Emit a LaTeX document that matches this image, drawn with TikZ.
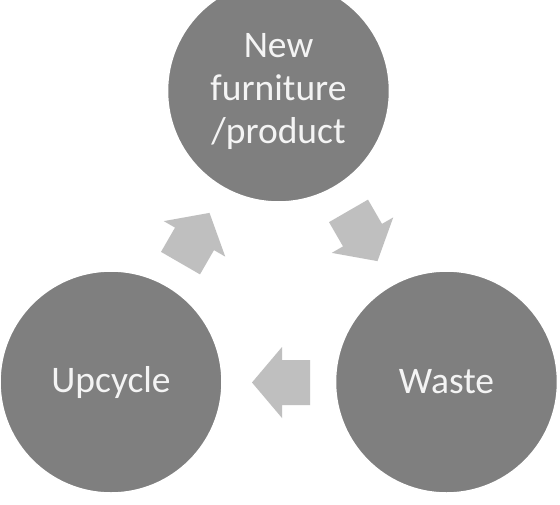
\documentclass[tikz,border=0pt]{standalone}
\usepackage{fontspec}
\setmainfont{Carlito}
\begin{document}
\begin{tikzpicture}[x=1pt,y=-1pt,
  stage/.style={circle, fill=stagegray, draw=white, line width=1.5pt,
    minimum size=222pt, inner sep=0pt, text=textwhite, align=center,
    font=\fontsize{37.5}{43}\selectfont},
  blockarrow/.style={fill=arrowgray, draw=none}]
\definecolor{stagegray}{HTML}{7F7F7F}
\definecolor{arrowgray}{HTML}{BFBFBF}
\definecolor{textwhite}{HTML}{F4F4F4}
\useasboundingbox (0,0) rectangle (560,504);
\clip (0,0) rectangle (560,504);
\fill[white] (0,0) rectangle (560,504);
\node[stage] (new) at (278.5,91) {New\\furniture\\/product};
\node[stage] (upcycle) at (111,382) {Upcycle};
\node[stage] (waste) at (446.5,382) {Waste};
\newcommand{\blockarrowpath}{(-29,-22.5) -- (-1,-22.5) -- (-1,-35.5) -- (29,0) -- (-1,35.5) -- (-1,22.5) -- (-29,22.5) -- cycle}
\fill[blockarrow, shift={(363,236)}, rotate=-60] \blockarrowpath;
\fill[blockarrow, shift={(281,382.5)}, rotate=180] \blockarrowpath;
\fill[blockarrow, shift={(195,238)}, rotate=60] \blockarrowpath;
\end{tikzpicture}
\end{document}
